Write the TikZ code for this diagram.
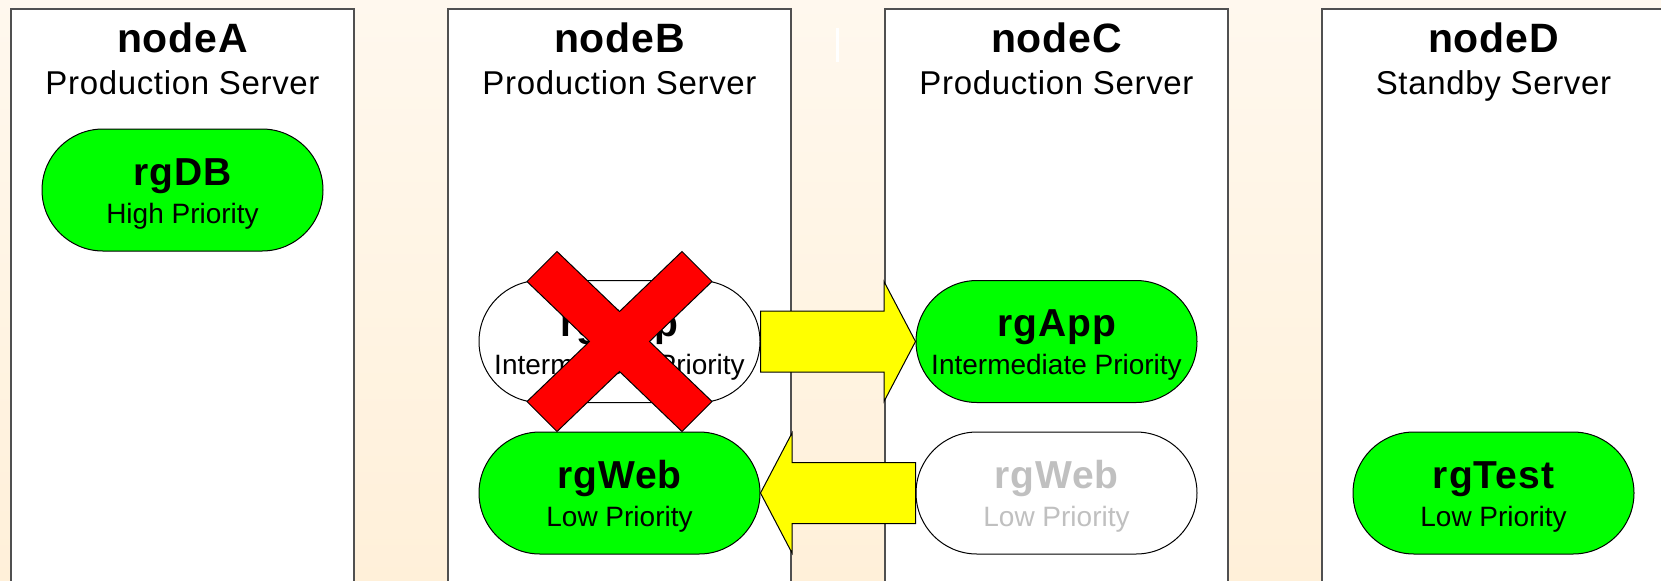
\documentclass[tikz,border=0pt]{standalone}
\usepackage{fontspec}
\setmainfont{Liberation Sans}
\usetikzlibrary{calc}

\definecolor{bgtop}{HTML}{FFF8EE}
\definecolor{bgbot}{HTML}{FFF0D9}
\definecolor{rggreen}{HTML}{00FF00}
\definecolor{rgyellow}{HTML}{FFFF00}
\definecolor{rgred}{HTML}{FF0000}
\definecolor{ghost}{HTML}{C0C0C0}
\definecolor{edge}{HTML}{505050}

% one resource group: name, position, pill style, text colour, title, subtitle
\newcommand\rgpill[6]{%
  \node[pill,#3] (#1) at (#2) {};
  \node[pilltitle,text=#4] (#1-t) at ([yshift=2.5pt]#1.center) {#5};
  \node[pillsub,text=#4] (#1-s) at ([yshift=-16.5pt]#1.center) {#6};
}
% one server column: name, centre x, title, role
\newcommand\server[4]{%
  \node[serverbox] (#1) at (#2,8) {};
  \node[srvtitle] (#1-t) at (#2,52) {#3};
  \node[srvrole] (#1-r) at (#2,94) {#4};
}

\begin{document}
\begin{tikzpicture}[x=0.5pt,y=-0.5pt,
  serverbox/.style={draw=edge, line width=0.8pt, fill=white, anchor=north,
    minimum width=171.75pt, minimum height=300pt, inner sep=0pt},
  srvtitle/.style={anchor=base, inner sep=0pt,
    font=\fontsize{20.5}{24}\selectfont\bfseries\addfontfeature{LetterSpace=2}},
  srvrole/.style={anchor=base, inner sep=0pt,
    font=\fontsize{16.5}{19}\selectfont\addfontfeature{LetterSpace=2}},
  pill/.style={draw=black, line width=0.5pt, minimum width=140.5pt,
    minimum height=61pt, rounded corners=30.5pt, inner sep=0pt},
  online/.style={fill=rggreen},
  offline/.style={fill=white},
  pilltitle/.style={anchor=base, inner sep=0pt,
    font=\fontsize{19.5}{22}\selectfont\bfseries\addfontfeature{LetterSpace=2.5}},
  pillsub/.style={anchor=base, inner sep=0pt, font=\fontsize{14}{17}\selectfont},
  blockarrow/.style={draw=black, line width=0.5pt, fill=rgyellow, line join=miter},
  failmark/.style={draw=black, line width=0.5pt, fill=rgred, line join=miter}]

\useasboundingbox (0,0) rectangle (1661,580);
\shade[top color=bgtop, bottom color=bgbot] (0,0) rectangle (1661,580);

% server columns
\server{nodeA}{182.5}{nodeA}{Production Server}
\server{nodeB}{619.5}{nodeB}{Production Server}
\server{nodeC}{1056.5}{nodeC}{Production Server}
\server{nodeD}{1493.5}{nodeD}{Standby Server}

% small white tick between the middle columns
\fill[white] (835.5,28) rectangle (838.5,62);

% resource groups
\rgpill{dbA}{182.5,190}{online}{black}{rgDB}{High Priority}
\rgpill{appB}{619.5,341.5}{offline}{black}{rgApp}{Intermediate Priority}
\rgpill{appC}{1056.5,341.5}{online}{black}{rgApp}{Intermediate Priority}
\rgpill{webB}{619.5,493}{online}{black}{rgWeb}{Low Priority}
\rgpill{webC}{1056.5,493}{offline}{ghost}{rgWeb}{Low Priority}
\rgpill{testD}{1493.5,493}{online}{black}{rgTest}{Low Priority}

% failover: rgApp moves from nodeB to nodeC
\draw[blockarrow]
  ($(appB.east)+(0,-30.5)$) -- ($(appC.west)+(-31.5,-30.5)$)
  -- ($(appC.west)+(-31.5,-60)$) -- (appC.west)
  -- ($(appC.west)+(-31.5,60)$) -- ($(appC.west)+(-31.5,30.5)$)
  -- ($(appB.east)+(0,30.5)$) -- cycle;

% rgWeb moves from nodeC back to nodeB
\draw[blockarrow]
  ($(webC.west)+(0,-30.5)$) -- ($(webB.east)+(31.5,-30.5)$)
  -- ($(webB.east)+(31.5,-60)$) -- (webB.east)
  -- ($(webB.east)+(31.5,60)$) -- ($(webB.east)+(31.5,30.5)$)
  -- ($(webC.west)+(0,30.5)$) -- cycle;

% failed resource group on nodeB
\draw[failmark]
  ($(appB.center)+(-92.5,-60)$) -- ($(appB.center)+(-62.5,-90)$)
  -- ($(appB.center)+(0,-30)$) -- ($(appB.center)+(62.5,-90)$)
  -- ($(appB.center)+(92.5,-60)$) -- ($(appB.center)+(30,0)$)
  -- ($(appB.center)+(92.5,60)$) -- ($(appB.center)+(62.5,90)$)
  -- ($(appB.center)+(0,30)$) -- ($(appB.center)+(-62.5,90)$)
  -- ($(appB.center)+(-92.5,60)$) -- ($(appB.center)+(-30,0)$) -- cycle;

\end{tikzpicture}
\end{document}
